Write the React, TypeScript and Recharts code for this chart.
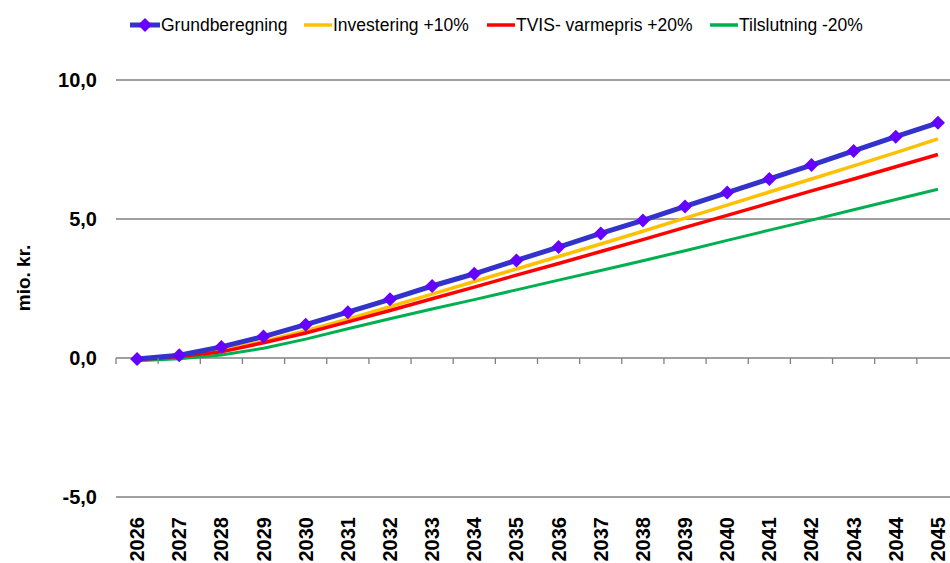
import { LineChart, Line, XAxis, YAxis, CartesianGrid, Label } from "recharts";

const years = [
  "2026", "2027", "2028", "2029", "2030", "2031", "2032", "2033", "2034", "2035",
  "2036", "2037", "2038", "2039", "2040", "2041", "2042", "2043", "2044", "2045",
];

const grundberegning = [
  -0.04, 0.1, 0.4, 0.77, 1.2, 1.65, 2.11, 2.59, 3.03, 3.51,
  3.99, 4.48, 4.95, 5.45, 5.95, 6.44, 6.94, 7.45, 7.96, 8.46,
];
const investering = [
  -0.05, 0.07, 0.27, 0.6, 0.98, 1.4, 1.85, 2.3, 2.75, 3.2,
  3.65, 4.1, 4.56, 5.03, 5.5, 5.97, 6.44, 6.91, 7.39, 7.88,
];
const varmepris = [
  -0.06, 0.05, 0.22, 0.55, 0.9, 1.3, 1.71, 2.13, 2.55, 2.98,
  3.4, 3.83, 4.26, 4.7, 5.13, 5.57, 6.01, 6.44, 6.88, 7.32,
];
const tilslutning = [
  -0.1, -0.03, 0.11, 0.35, 0.68, 1.05, 1.41, 1.76, 2.1, 2.45,
  2.8, 3.15, 3.5, 3.86, 4.23, 4.6, 4.96, 5.33, 5.7, 6.07,
];

const yTicks = [-5, 0, 5, 10];

const data = years.map((year, i) => ({
  year,
  grund: grundberegning[i],
  invest: investering[i],
  varme: varmepris[i],
  tilslut: tilslutning[i],
}));

const FONT = "'Liberation Sans', Arial, sans-serif";
const WIDTH = 960;
const HEIGHT = 563;
const PLOT_LEFT = 116;
const PLOT_TOP = 80;
const X_AXIS_H = 66;
const PLOT_W = WIDTH - 1 - PLOT_LEFT;
const PLOT_H = HEIGHT - X_AXIS_H - PLOT_TOP;
const ZERO_Y = PLOT_TOP + (10 / 15) * PLOT_H;
const BAND = PLOT_W / years.length;

// legend entries, left = where the swatch starts
const legendItems = [
  { name: "Grundberegning", color: "#3333cc", diamond: true, left: 130 },
  { name: "Investering +10%", color: "#ffc000", left: 304 },
  { name: "TVIS- varmepris +20%", color: "#ff0000", left: 487 },
  { name: "Tilslutning -20%", color: "#00b050", left: 710 },
];

function Diamond(props: any) {
  const { cx, cy } = props;
  if (cx == null || cy == null) return null;
  const r = 7;
  return (
    <path
      d={`M${cx},${cy - r}L${cx + r},${cy}L${cx},${cy + r}L${cx - r},${cy}Z`}
      fill="#6600ff"
    />
  );
}

function YearTick(props: any) {
  const { x, payload, index } = props;
  const tx = x - BAND / 2;
  return (
    <g>
      <line x1={tx} y1={ZERO_Y} x2={tx} y2={ZERO_Y + 6} stroke="#808080" strokeWidth={1.3} />
      {index === years.length - 1 && (
        <line x1={x + BAND / 2} y1={ZERO_Y} x2={x + BAND / 2} y2={ZERO_Y + 6} stroke="#808080" strokeWidth={1.3} />
      )}
      <text
        x={x}
        y={517}
        transform={`rotate(-90 ${x} 517)`}
        textAnchor="end"
        dominantBaseline="central"
        fontFamily={FONT}
        fontWeight="bold"
        fontSize={20}
        fill="#000"
      >
        {payload.value}
      </text>
    </g>
  );
}

function Legend() {
  return (
    <div style={{ position: "absolute", top: 0, left: 0, fontFamily: FONT, fontSize: 17.5, color: "#000" }}>
      {legendItems.map((item) => {
        const w = item.diamond ? 31 : 29;
        return (
          <div
            key={item.name}
            style={{
              position: "absolute",
              left: item.left,
              top: 14,
              height: 22,
              display: "flex",
              alignItems: "center",
              whiteSpace: "nowrap",
            }}
          >
            <svg width={w} height={22} style={{ display: "block" }}>
              <line x1={0} y1={11} x2={w - 1} y2={11} stroke={item.color} strokeWidth={item.diamond ? 5 : 3.5} />
              {item.diamond && <path d="M15,4L22,11L15,18L8,11Z" fill="#6600ff" />}
            </svg>
            <span>{item.name}</span>
          </div>
        );
      })}
    </div>
  );
}

export default function App() {
  return (
    <div style={{ position: "absolute", left: 0, top: 0, width: WIDTH, height: HEIGHT, background: "#fff" }}>
      <Legend />
      <LineChart
        width={WIDTH}
        height={HEIGHT}
        data={data}
        margin={{ top: PLOT_TOP, right: 1, bottom: 0, left: 0 }}
      >
        <CartesianGrid vertical={false} stroke="#808080" strokeWidth={1.3} />
        <XAxis
          dataKey="year"
          height={X_AXIS_H}
          axisLine={false}
          tickLine={false}
          interval={0}
          padding={{ left: BAND / 2, right: BAND / 2 }}
          tick={<YearTick />}
        />
        <YAxis
          width={PLOT_LEFT}
          domain={[-5, 10]}
          ticks={yTicks}
          axisLine={false}
          tickLine={false}
          tickSize={0}
          tickMargin={19}
          tickFormatter={(v: number) => v.toFixed(1).replace(".", ",")}
          tick={{ fontFamily: FONT, fontWeight: "bold", fontSize: 20, fill: "#000" }}
        >
          <Label
            content={() => (
              <text
                x={23}
                y={278}
                transform="rotate(-90 23 278)"
                textAnchor="middle"
                dominantBaseline="central"
                fontFamily={FONT}
                fontWeight="bold"
                fontSize={19}
                fill="#000"
              >
                mio. kr.
              </text>
            )}
          />
        </YAxis>
        <Line type="linear" dataKey="tilslut" stroke="#00b050" strokeWidth={3} dot={false} isAnimationActive={false} />
        <Line type="linear" dataKey="invest" stroke="#ffc000" strokeWidth={3.5} dot={false} isAnimationActive={false} />
        <Line type="linear" dataKey="varme" stroke="#ff0000" strokeWidth={3.5} dot={false} isAnimationActive={false} />
        <Line
          type="linear"
          dataKey="grund"
          stroke="#3333cc"
          strokeWidth={5}
          dot={<Diamond />}
          activeDot={false}
          isAnimationActive={false}
        />
      </LineChart>
    </div>
  );
}
